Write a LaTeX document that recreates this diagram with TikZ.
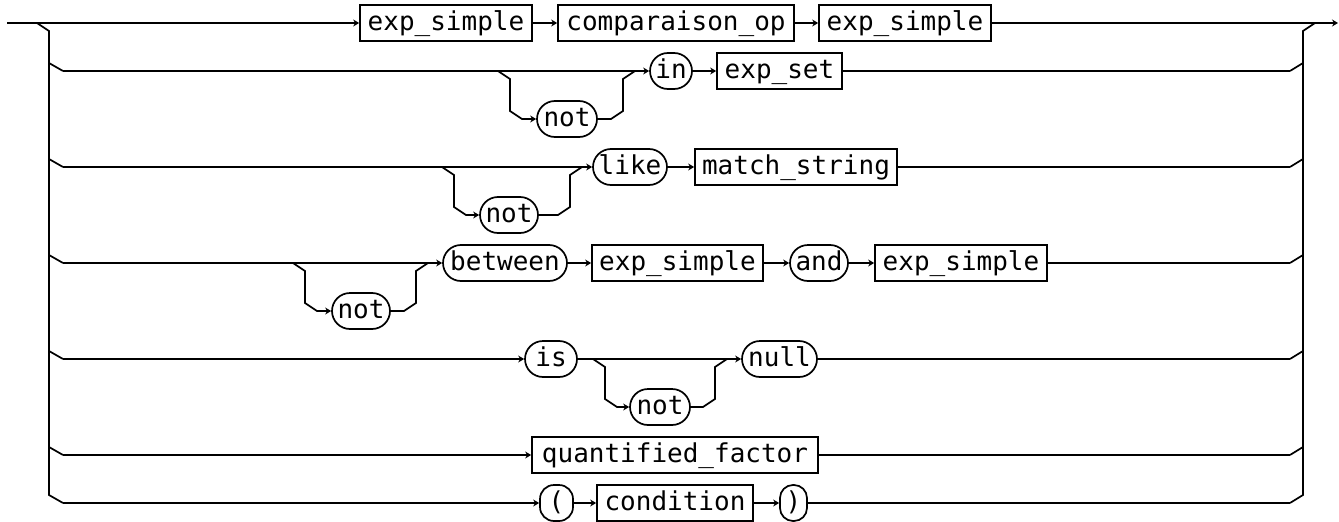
\documentclass[tikz,border=0pt]{standalone}
\usepackage{fontspec}
\setmonofont{DejaVu Sans Mono}
\usetikzlibrary{arrows.meta}
\begin{document}
\begin{tikzpicture}[x=1pt,y=-1pt,line width=1.7pt,line join=miter,
  box/.style={draw,font=\ttfamily\fontsize{26}{26}\selectfont,text height=19.5pt,text depth=5.3pt,
    inner sep=0pt,minimum height=36pt,line width=1.7pt},
  nterm/.style={box},
  term/.style={box,rounded corners=18pt},
  arr/.style={-{Stealth[length=6pt,width=7pt]}}]
\useasboundingbox (0,0) rectangle (1339,522);
% ---------- nodes ----------
% row 1
\node[nterm,minimum width=172pt] (e1a) at (446,23) {exp\_simple};
\node[nterm,minimum width=236pt] (cmp) at (676,23) {comparaison\_op};
\node[nterm,minimum width=172pt] (e1b) at (905,23) {exp\_simple};
% row 2
\node[term,minimum width=60pt] (not2) at (567,119) {not};
\node[term,minimum width=42pt] (kwin) at (671,71) {in};
\node[nterm,minimum width=125pt] (eset) at (779.5,71) {exp\_set};
% row 3
\node[term,minimum width=58pt] (not3) at (509,215) {not};
\node[term,minimum width=74pt] (kwlike) at (630,167) {like};
\node[nterm,minimum width=202pt] (match) at (796,167) {match\_string};
% row 4
\node[term,minimum width=58pt] (not4) at (361,311) {not};
\node[term,minimum width=124pt] (betw) at (505,263) {between};
\node[nterm,minimum width=171pt] (e4a) at (677.5,263) {exp\_simple};
\node[term,minimum width=58pt] (kwand) at (819,263) {and};
\node[nterm,minimum width=172pt] (e4b) at (961,263) {exp\_simple};
% row 5
\node[term,minimum width=52pt] (kwis) at (551,359) {is};
\node[term,minimum width=60pt] (not5) at (660,407) {not};
\node[term,minimum width=75pt] (kwnull) at (779.5,359) {null};
% row 6
\node[nterm,minimum width=286pt] (qf) at (675,455) {quantified\_factor};
% row 7
\node[term,rounded corners=14pt,minimum width=33pt] (lp) at (556.5,503) {(};
\node[nterm,minimum width=156pt] (cond) at (675,503) {condition};
\node[term,rounded corners=13pt,minimum width=27pt] (rp) at (793.5,503) {)};
% ---------- coordinates ----------
\coordinate (S) at (7,23);
\coordinate (E) at (1338,23);
\coordinate (L0) at (37,23);  \coordinate (L1) at (49,31);
\coordinate (L7v) at (49,495); \coordinate (L7) at (63,503);
\coordinate (R0) at (1315,23); \coordinate (R1) at (1303,31);
\coordinate (R7v) at (1303,495); \coordinate (R7) at (1290,503);
\coordinate (L2v) at (49,63);  \coordinate (L2) at (63,71);
\coordinate (L3v) at (49,159); \coordinate (L3) at (63,167);
\coordinate (L4v) at (49,255); \coordinate (L4) at (63,263);
\coordinate (L5v) at (49,351); \coordinate (L5) at (63,359);
\coordinate (L6v) at (49,447); \coordinate (L6) at (63,455);
\coordinate (R2v) at (1303,63);  \coordinate (R2) at (1290,71);
\coordinate (R3v) at (1303,159); \coordinate (R3) at (1290,167);
\coordinate (R4v) at (1303,255); \coordinate (R4) at (1290,263);
\coordinate (R5v) at (1303,351); \coordinate (R5) at (1290,359);
\coordinate (R6v) at (1303,447); \coordinate (R6) at (1290,455);
% loop corners: row 2 (xl=498,xr=635)
\coordinate (a2) at (498,71); \coordinate (b2) at (510,79); \coordinate (c2) at (510,111); \coordinate (d2) at (522,119);
\coordinate (e2) at (611,119); \coordinate (f2) at (623,111); \coordinate (g2) at (623,79); \coordinate (h2) at (635,71);
% row 3 (xl=442,xr=582)
\coordinate (a3) at (442,167); \coordinate (b3) at (454,175); \coordinate (c3) at (454,207); \coordinate (d3) at (466,215);
\coordinate (e3) at (558,215); \coordinate (f3) at (570,207); \coordinate (g3) at (570,175); \coordinate (h3) at (582,167);
% row 4 (xl=293,xr=428)
\coordinate (a4) at (293,263); \coordinate (b4) at (305,271); \coordinate (c4) at (305,303); \coordinate (d4) at (317,311);
\coordinate (e4) at (404,311); \coordinate (f4) at (416,303); \coordinate (g4) at (416,271); \coordinate (h4) at (428,263);
% row 5 (xl=593,xr=727)
\coordinate (a5) at (593,359); \coordinate (b5) at (605,367); \coordinate (c5) at (605,399); \coordinate (d5) at (617,407);
\coordinate (e5) at (703,407); \coordinate (f5) at (715,399); \coordinate (g5) at (715,367); \coordinate (h5) at (727,359);
% ---------- bars ----------
\draw (L0) -- (L1) -- (L7v) -- (L7);
\draw (R0) -- (R1) -- (R7v) -- (R7);
\draw (L2v) -- (L2); \draw (L3v) -- (L3); \draw (L4v) -- (L4); \draw (L5v) -- (L5); \draw (L6v) -- (L6);
\draw (R2) -- (R2v); \draw (R3) -- (R3v); \draw (R4) -- (R4v); \draw (R5) -- (R5v); \draw (R6) -- (R6v);
% ---------- row 1 ----------
\draw[arr] (S) -- (e1a);
\draw[arr] (e1a) -- (cmp);
\draw[arr] (cmp) -- (e1b);
\draw[arr] (e1b) -- (E);
% ---------- row 2 ----------
\draw[arr] (L2) -- (kwin);
\draw[arr] (kwin) -- (eset);
\draw (eset) -- (R2);
\draw[arr] (a2) -- (b2) -- (c2) -- (d2) -- (not2);
\draw (not2) -- (e2) -- (f2) -- (g2) -- (h2);
% ---------- row 3 ----------
\draw[arr] (L3) -- (kwlike);
\draw[arr] (kwlike) -- (match);
\draw (match) -- (R3);
\draw[arr] (a3) -- (b3) -- (c3) -- (d3) -- (not3);
\draw (not3) -- (e3) -- (f3) -- (g3) -- (h3);
% ---------- row 4 ----------
\draw[arr] (L4) -- (betw);
\draw[arr] (betw) -- (e4a);
\draw[arr] (e4a) -- (kwand);
\draw[arr] (kwand) -- (e4b);
\draw (e4b) -- (R4);
\draw[arr] (a4) -- (b4) -- (c4) -- (d4) -- (not4);
\draw (not4) -- (e4) -- (f4) -- (g4) -- (h4);
% ---------- row 5 ----------
\draw[arr] (L5) -- (kwis.west);
\draw[arr] (kwis.east) -- (kwnull.west);
\draw (kwnull.east) -- (R5);
\draw[arr] (a5) -- (b5) -- (c5) -- (d5) -- (not5);
\draw (not5) -- (e5) -- (f5) -- (g5) -- (h5);
% ---------- row 6 ----------
\draw[arr] (L6) -- (qf);
\draw (qf) -- (R6);
% ---------- row 7 ----------
\draw[arr] (L7) -- (lp);
\draw[arr] (lp) -- (cond);
\draw[arr] (cond) -- (rp);
\draw (rp) -- (R7);
\end{tikzpicture}
\end{document}
